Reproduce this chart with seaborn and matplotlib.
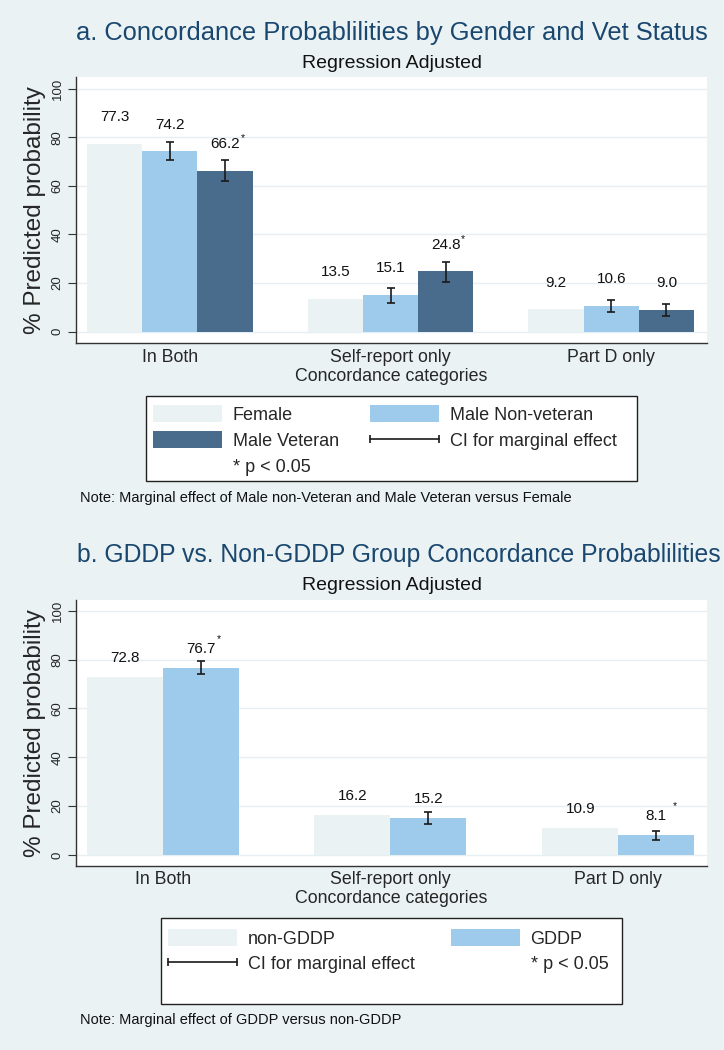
import matplotlib
matplotlib.use("Agg")
import matplotlib.pyplot as plt
import seaborn as sns
import numpy as np
import pandas as pd
from matplotlib.patches import Patch, Rectangle
from matplotlib.lines import Line2D
from matplotlib.legend_handler import HandlerLine2D

# ---------------- data ----------------
categories = ["In Both", "Self-report only", "Part D only"]

groups_a = ["Female", "Male Non-veteran", "Male Veteran"]
female_a = [77.3, 13.5, 9.2]
male_nonvet_a = [74.2, 15.1, 10.6]
male_vet_a = [66.2, 24.8, 9.0]
male_nonvet_ci_lo = [70.5, 11.9, 8.1]
male_nonvet_ci_hi = [78.1, 18.1, 12.9]
male_vet_ci_lo = [61.9, 20.6, 6.5]
male_vet_ci_hi = [70.7, 28.8, 11.5]
female_sig = [False, False, False]
male_nonvet_sig = [False, False, False]
male_vet_sig = [True, True, False]

groups_b = ["non-GDDP", "GDDP"]
non_gddp_b = [72.8, 16.2, 10.9]
gddp_b = [76.7, 15.2, 8.1]
gddp_ci_lo = [74.1, 12.8, 6.3]
gddp_ci_hi = [79.3, 17.4, 9.8]
non_gddp_sig = [False, False, False]
gddp_sig = [True, False, True]

yticks = [0, 20, 40, 60, 80, 100]

title_a = "a. Concordance Probablilities by Gender and Vet Status"
title_b = "b. GDDP vs. Non-GDDP Group Concordance Probablilities"
subtitle = "Regression Adjusted"
ylabel = "% Predicted probability"
xlabel = "Concordance categories"
note_a = "Note: Marginal effect of Male non-Veteran and Male Veteran versus Female"
note_b = "Note: Marginal effect of GDDP versus non-GDDP"
ci_label = "CI for marginal effect"
sig_label = "* p < 0.05"

# ---------------- style ----------------
BG = "#EAF2F3"
C_FEM = "#EBF2F3"
C_MNV = "#9ECBEB"
C_MV = "#496B8C"
C_TITLE = "#1A476F"
C_GRID = "#E6EFF1"
C_AX = "#333333"

sns.set_theme(style="white")
plt.rcParams["font.family"] = ["Liberation Sans", "DejaVu Sans"]

W, H = 724, 1050
fig = plt.figure(figsize=(W / 100, H / 100), dpi=100, facecolor=BG)


def fx(px):
    return px / W


def fy(py):
    return 1 - py / H


def draw_panel(ax, df, hue_order, palette, bar_width, ylim, xlim,
               cis, sigs, label_off, star_offsets):
    ax.set_facecolor("white")
    sns.barplot(data=df, x="category", y="value", hue="group",
                hue_order=hue_order, order=categories, palette=palette,
                width=bar_width, saturation=1, errorbar=None, legend=False,
                linewidth=0, ax=ax, zorder=2)
    bar_containers = list(ax.containers)
    ax.set_ylim(*ylim)
    ax.set_xlim(*xlim)
    ax.set_yticks(yticks)
    ax.yaxis.grid(True, color=C_GRID, linewidth=1.0, zorder=0)
    ax.set_axisbelow(True)
    for s in ["top", "right"]:
        ax.spines[s].set_visible(False)
    for s in ["left", "bottom"]:
        ax.spines[s].set_color(C_AX)
        ax.spines[s].set_linewidth(1.0)
    ax.tick_params(axis="y", length=5.8, width=0.8, color=C_AX,
                   labelsize=9.5, pad=3.0, labelrotation=90, left=True)
    for lab in ax.get_yticklabels():
        lab.set_va("center")
    ax.tick_params(axis="x", length=0, labelsize=12.8, pad=4.0)
    ax.set_xlabel(xlabel, fontsize=12.8, labelpad=1.5)
    ax.set_ylabel(ylabel, fontsize=17.5, labelpad=4)

    for gi, cont in enumerate(bar_containers):
        for ci, bar in enumerate(cont.patches):
            x = bar.get_x() + bar.get_width() / 2
            v = bar.get_height()
            ci_pair = cis[gi]
            if ci_pair is not None:
                lo, hi = ci_pair[0][ci], ci_pair[1][ci]
                ax.errorbar(x, v, yerr=[[v - lo], [hi - v]], fmt="none",
                            ecolor="#1a1a1a", elinewidth=1.2, capsize=3,
                            capthick=1.2, zorder=4)
            t = ax.text(x, v + label_off, f"{v:.1f}", ha="center",
                        va="center", fontsize=11, color="#111111",
                        zorder=5)
            if sigs[gi][ci]:
                dx, dy = star_offsets.get((gi, ci), (0.5, -1))
                ax.annotate("*", xy=(1, 1), xycoords=t, xytext=(dx, dy),
                            textcoords="offset points", ha="left",
                            va="center", fontsize=7.5, color="#111111")


# ---------------- panel a ----------------
df_a = pd.DataFrame({
    "category": categories * 3,
    "group": [groups_a[0]] * 3 + [groups_a[1]] * 3 + [groups_a[2]] * 3,
    "value": female_a + male_nonvet_a + male_vet_a,
})
ax_a = fig.add_axes([fx(76), fy(343.3), fx(707) - fx(76), fy(77) - fy(343.3)])
draw_panel(ax_a, df_a, groups_a, [C_FEM, C_MNV, C_MV], 0.75,
           (-4.8, 104.8), (-0.425, 2.434),
           [None, (male_nonvet_ci_lo, male_nonvet_ci_hi),
            (male_vet_ci_lo, male_vet_ci_hi)],
           [female_sig, male_nonvet_sig, male_vet_sig], 11.0, {})

# ---------------- panel b ----------------
df_b = pd.DataFrame({
    "category": categories * 2,
    "group": [groups_b[0]] * 3 + [groups_b[1]] * 3,
    "value": non_gddp_b + gddp_b,
})
ax_b = fig.add_axes([fx(76), fy(865.7), fx(707) - fx(76), fy(600) - fy(865.7)])
draw_panel(ax_b, df_b, groups_b, [C_FEM, C_MNV], 0.667,
           (-4.4, 104.4), (-0.38, 2.389),
           [None, (gddp_ci_lo, gddp_ci_hi)],
           [non_gddp_sig, gddp_sig], 7.8,
           {(1, 0): (1.0, 1.5), (1, 2): (4.5, 2.5)})

# ---------------- titles & notes ----------------
cx = (fx(76) + fx(707)) / 2
fig.text(fx(392), fy(33), title_a, ha="center", va="center", fontsize=18.4,
         color=C_TITLE)
fig.text(cx, fy(64), subtitle, ha="center", va="center", fontsize=14,
         color="#111111")
fig.text(fx(399), fy(555), title_b, ha="center", va="center", fontsize=17.8,
         color=C_TITLE)
fig.text(cx, fy(585), subtitle, ha="center", va="center", fontsize=14,
         color="#111111")
fig.text(fx(80), fy(498), note_a, ha="left", va="center", fontsize=10.5,
         color="#111111")
fig.text(fx(80), fy(1020), note_b, ha="left", va="center", fontsize=10.5,
         color="#111111")

# ---------------- legends ----------------
def ci_handle():
    return Line2D([], [], color="#1a1a1a", lw=1.2, marker="|",
                  markersize=6, markeredgewidth=1.2)


def legend_frame(x0, y0, x1, y1):
    fig.add_artist(Rectangle((fx(x0), fy(y1)), fx(x1) - fx(x0),
                             fy(y0) - fy(y1), transform=fig.transFigure,
                             facecolor="white", edgecolor="#222222",
                             linewidth=1.0, zorder=1))


legkw = dict(loc="upper left", ncol=2, fontsize=13,
             handlelength=3.82, handleheight=1.05, handletextpad=0.61,
             labelspacing=0.4, borderpad=0, borderaxespad=0,
             frameon=False)

legend_frame(146, 396, 637, 481)
ci_a = ci_handle()
handles_a = [Patch(facecolor=C_FEM, edgecolor="none"),
             Patch(facecolor=C_MV, edgecolor="none"),
             Patch(facecolor="none", edgecolor="none"),
             Patch(facecolor=C_MNV, edgecolor="none"),
             ci_a]
labels_a = ["Female", "Male Veteran", sig_label, "Male Non-veteran", ci_label]
leg_a = fig.legend(handles_a, labels_a,
                   bbox_to_anchor=(fx(153), fy(405.5)),
                   columnspacing=1.72,
                   handler_map={ci_a: HandlerLine2D(numpoints=2, marker_pad=0)},
                   **legkw)

legend_frame(161, 918, 622, 1004)
ci_b = ci_handle()
handles_b = [Patch(facecolor=C_FEM, edgecolor="none"), ci_b,
             Patch(facecolor=C_MNV, edgecolor="none"),
             Patch(facecolor="none", edgecolor="none")]
labels_b = ["non-GDDP", ci_label, "GDDP", sig_label]
leg_b = fig.legend(handles_b, labels_b,
                   bbox_to_anchor=(fx(168), fy(929.2)),
                   columnspacing=1.98,
                   handler_map={ci_b: HandlerLine2D(numpoints=2, marker_pad=0)},
                   **legkw)

fig.savefig("out.png", dpi=100, facecolor=BG)
